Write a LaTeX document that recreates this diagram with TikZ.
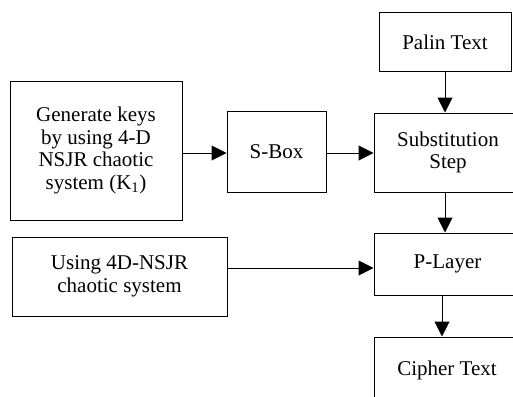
\documentclass[tikz,border=0pt]{standalone}
\usepackage{fontspec}
\setmainfont{Liberation Serif}
\newfontfamily\tnr{Liberation Serif}
\usetikzlibrary{arrows.meta}
\begin{document}
\begin{tikzpicture}[x=1pt,y=-1pt,
  box/.style={draw,line width=1pt,inner sep=0pt,align=center,
    font=\tnr\fontsize{21}{22.5}\selectfont},
  arr/.style={line width=1pt,-{Triangle[length=15pt,width=15pt]}}]
\useasboundingbox (0,0) rectangle (513,396);
\clip (0,0) rectangle (513,396);
\fill[white] (0,0) rectangle (513,396);
\node[box,minimum width=172pt,minimum height=139pt] (gen) at (96,150.5)
  {Generate keys\\by using 4-D\\NSJR chaotic\\system (K\textsubscript{1})};
\node[box,minimum width=99pt,minimum height=81pt] (sbox) at (276.5,151.5) {S-Box};
\node[box,minimum width=148pt,minimum height=79pt] (subst) at (448,152.5) {Substitution\\Step};
\node[box,minimum width=132pt,minimum height=58pt] (palin) at (445,42) {Palin Text};
\node[box,minimum width=147pt,minimum height=62pt] (player) at (447.5,264) {P-Layer};
\node[box,minimum width=215pt,minimum height=79pt] (using) at (119.5,276.5) {Using 4D-NSJR\\chaotic system};
\node[box,minimum width=146pt,minimum height=66pt] (cipher) at (447,370) {Cipher Text};
\draw[arr] (gen.east |- {(0,153)}) -- (sbox.west |- {(0,153)});
\draw[arr] (sbox.east |- {(0,153)}) -- (subst.west |- {(0,153)});
\draw[arr] (palin.south) -- (palin.south |- subst.north);
\draw[arr] (subst.south -| palin.south) -- (player.north -| palin.south);
\draw[arr] (using.east |- {(0,268)}) -- (player.west |- {(0,268)});
\draw[arr] (player.south -| {(442,0)}) -- (cipher.north -| {(442,0)});
\end{tikzpicture}
\end{document}
